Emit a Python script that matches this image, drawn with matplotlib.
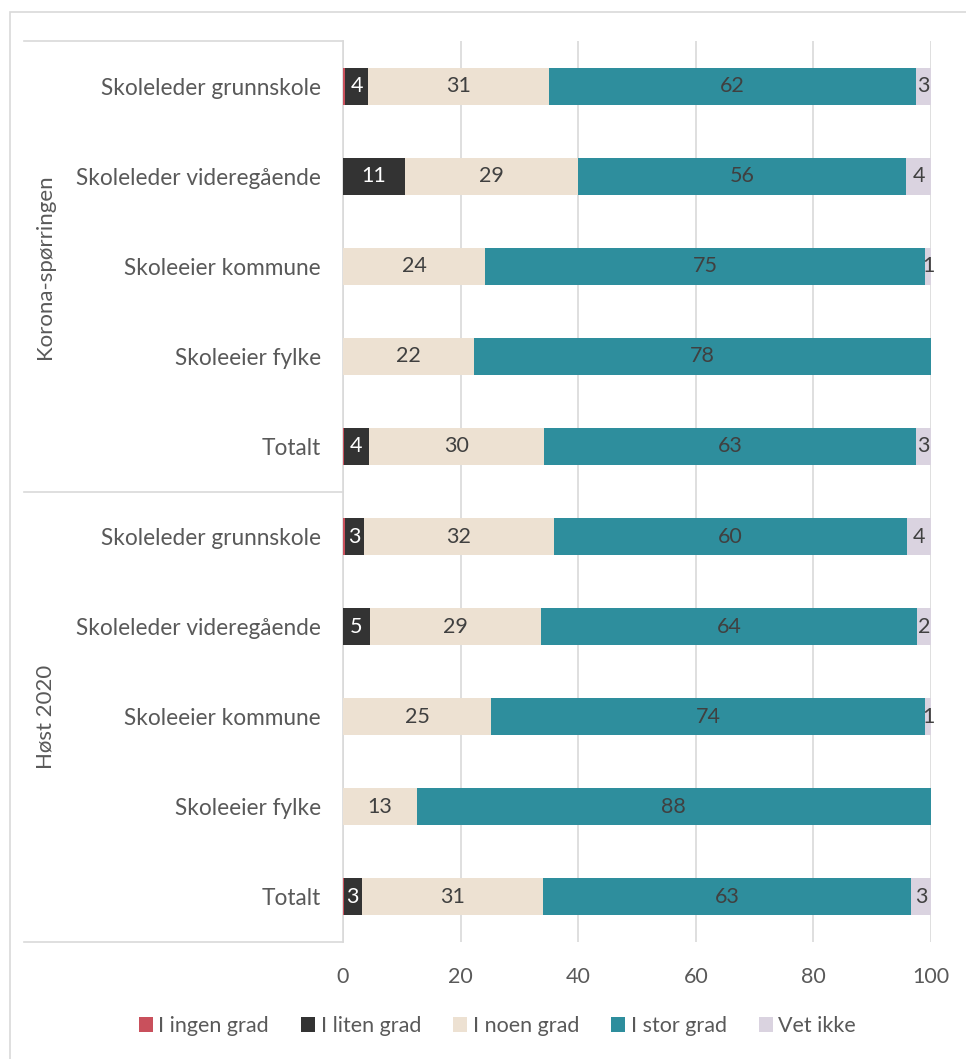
import numpy as np
import matplotlib.pyplot as plt
from matplotlib.patches import Rectangle
from matplotlib.transforms import blended_transform_factory

plt.rcParams['font.family'] = ['Lato', 'DejaVu Sans']

groups = ['Korona-spørringen', 'Høst 2020']
rows = ['Skoleleder grunnskole', 'Skoleleder videregående', 'Skoleeier kommune',
        'Skoleeier fylke', 'Totalt']
series = ['I ingen grad', 'I liten grad', 'I noen grad', 'I stor grad', 'Vet ikke']
colors = ['#C9505C', '#333333', '#EDE1D2', '#2E8E9D', '#DAD3E0']
text_colors = ['#FFFFFF', '#FFFFFF', '#404040', '#404040', '#404040']

# korona first, then høst 2020
ingen = [0.4, 0.0, 0.0, 0.0, 0.1, 0.4, 0.0, 0.0, 0.0, 0.1]
liten = [3.9, 10.6, 0.0, 0.0, 4.3, 3.2, 4.6, 0.0, 0.0, 3.1]
noen = [30.7, 29.4, 24.2, 22.2, 29.8, 32.2, 29.1, 25.2, 12.5, 30.8]
stor = [62.4, 55.8, 74.8, 77.8, 63.2, 60.1, 63.9, 73.8, 87.5, 62.6]
vet = [2.6, 4.2, 1.0, 0.0, 2.6, 4.1, 2.4, 1.0, 0.0, 3.4]

values = [ingen, liten, noen, stor, vet]
labels = rows + rows
y = np.arange(len(labels))
fs = 15.5

fig = plt.figure(figsize=(9.66, 10.59), dpi=100)
ax = fig.add_axes([343/966, 1-942/1059, (931-343)/966, (942-41)/1059])

left = np.zeros(len(labels))
for s, vals, c, tc in zip(series, values, colors, text_colors):
    vals = np.array(vals)
    bars = ax.barh(y, vals, left=left, height=0.41, color=c, label=s, zorder=3)
    lbl = [str(int(np.floor(v + 0.5))) if v >= 0.95 else '' for v in vals]
    ax.bar_label(bars, labels=lbl, label_type='center', color=tc, fontsize=fs)
    left += vals

ax.set_xlim(0, 100)
ax.set_ylim(len(labels) - 0.5, -0.5)
ax.set_xticks([0, 20, 40, 60, 80, 100])
ax.set_yticks(y)
ax.set_yticklabels(labels, fontsize=16.3, color='#595959')
ax.tick_params(axis='x', labelsize=fs, colors='#595959', length=0, pad=18)
ax.tick_params(axis='y', length=0, pad=16)
ax.grid(axis='x', color='#D9D9D9', linewidth=1.2, zorder=0)
for sp in ['top', 'right', 'bottom']:
    ax.spines[sp].set_visible(False)
ax.spines['left'].set_color('#D9D9D9')
ax.spines['left'].set_linewidth(1.2)

# group brackets
tr = blended_transform_factory(fig.transFigure, ax.transData)
for yb in [-0.5, 4.5, 9.5]:
    ax.plot([24/966, 343/966], [yb, yb], transform=tr, color='#D9D9D9',
            linewidth=1.2, clip_on=False)
for i, g in enumerate(groups):
    ax.text(45/966, i * 5 + 2, g, transform=tr, rotation=90, ha='center',
            va='center', fontsize=16, color='#595959')

# chart border
fig.patches.append(Rectangle((10/966, -0.1), 1.2, 1 - 12/1059 + 0.1,
                             transform=fig.transFigure, fill=False,
                             edgecolor='#D9D9D9', linewidth=1.2))

fig.legend(loc='center', bbox_to_anchor=(0.515, 1 - 1026/1059), ncol=5,
           frameon=False, fontsize=fs, labelcolor='#595959', handlelength=0.65,
           handleheight=0.65, handletextpad=0.25, columnspacing=1.5)

fig.savefig('out.png', dpi=100)
